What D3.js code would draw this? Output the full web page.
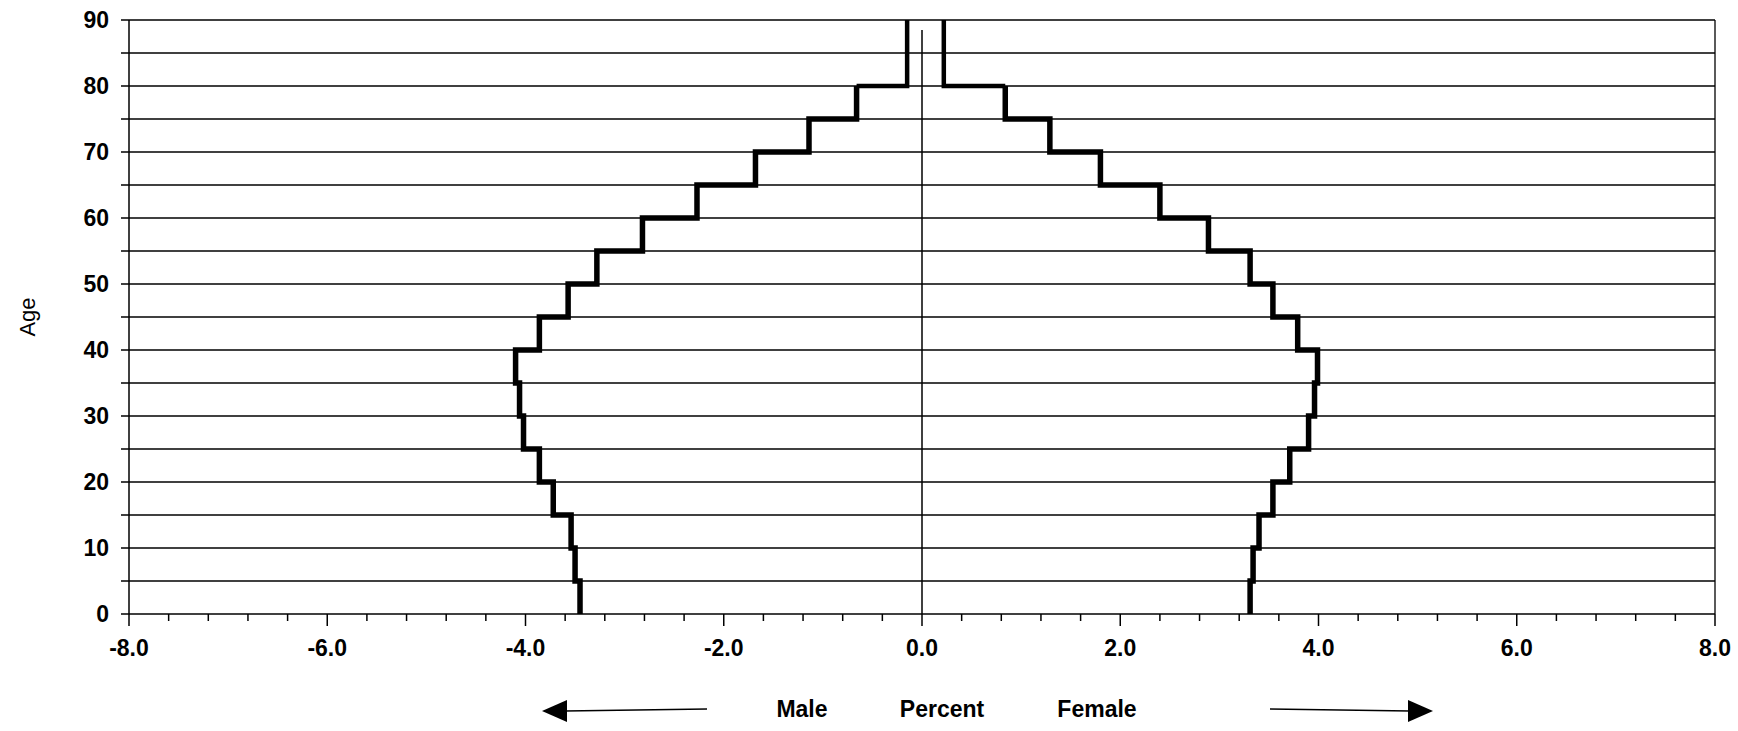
<!DOCTYPE html>
<html><head><meta charset="utf-8">
<script src="https://cdn.jsdelivr.net/npm/d3@7"></script>
<style>body{margin:0;background:#fff}text{font-family:Arial,"Liberation Sans",sans-serif;font-weight:bold}</style>
</head><body><svg id="c" width="1738" height="731"></svg>
<script>
// age band starts (5-year bands, last band 80-90)
var bandStart = [0,5,10,15,20,25,30,35,40,45,50,55,60,65,70,75,80];
var bandEnd   = [5,10,15,20,25,30,35,40,45,50,55,60,65,70,75,80,90];
var male   = [-3.45,-3.5,-3.54,-3.72,-3.86,-4.02,-4.06,-4.1,-3.86,-3.57,-3.28,-2.82,-2.27,-1.68,-1.14,-0.66,-0.15];
var female = [3.31,3.34,3.4,3.54,3.71,3.9,3.96,3.99,3.79,3.54,3.31,2.89,2.4,1.8,1.29,0.84,0.22];
var xTicks = [-8,-6,-4,-2,0,2,4,6,8];
var yTicks = [0,10,20,30,40,50,60,70,80,90];

var svg = d3.select("#c");
var x = d3.scaleLinear().domain([-8,8]).range([129,1715]);
var y = d3.scaleLinear().domain([0,90]).range([614,20]);

// grid lines every 5 years
d3.range(0,91,5).forEach(function(a){
  svg.append("line").attr("x1",x(-8)-8).attr("x2",x(8)).attr("y1",y(a)).attr("y2",y(a))
    .attr("stroke","#000").attr("stroke-width",1.3);
});
svg.append("line").attr("x1",x(8)).attr("x2",x(8)).attr("y1",y(0)).attr("y2",y(90)).attr("stroke","#000").attr("stroke-width",1.3);
svg.append("line").attr("x1",x(-8)).attr("x2",x(-8)).attr("y1",y(0)).attr("y2",y(90)).attr("stroke","#000").attr("stroke-width",1.5);

// x ticks
d3.range(-8,8.01,0.4).forEach(function(v){
  var major = Math.abs(v/2 - Math.round(v/2)) < 1e-6;
  svg.append("line").attr("x1",x(v)).attr("x2",x(v)).attr("y1",y(0)).attr("y2",y(0)+(major?12:7))
    .attr("stroke","#000").attr("stroke-width",1.5);
});
svg.selectAll(".xl").data(xTicks).enter().append("text")
  .attr("x",function(d){return x(d);}).attr("y",y(0)+42).attr("text-anchor","middle")
  .attr("font-size",23).text(function(d){return d.toFixed(1);});
svg.selectAll(".yl").data(yTicks).enter().append("text")
  .attr("x",x(-8)-20).attr("y",function(d){return y(d)+8;}).attr("text-anchor","end")
  .attr("font-size",23).text(function(d){return d;});
svg.append("text").attr("transform","translate(35,"+y(45)+") rotate(-90)").attr("text-anchor","middle")
  .attr("font-size",22).style("font-weight","normal").text("Age");

// center line
svg.append("line").attr("x1",x(0)).attr("x2",x(0)).attr("y1",y(0)).attr("y2",y(88.5)).attr("stroke","#000").attr("stroke-width",1.5);

function stepPath(vals){
  var pts = [];
  vals.forEach(function(v,i){ pts.push([x(v),y(bandStart[i])]); pts.push([x(v),y(bandEnd[i])]); });
  return d3.line()(pts);
}
[male,female].forEach(function(s){
  svg.append("path").attr("d",stepPath(s.slice(0,16)))
    .attr("fill","none").attr("stroke","#000").attr("stroke-width",5.5);
  // top band drawn thinner
  svg.append("path").attr("d",d3.line()([[x(s[15]),y(80)],[x(s[16]),y(80)],[x(s[16]),y(90)]]))
    .attr("fill","none").attr("stroke","#000").attr("stroke-width",4.5);
});

// bottom labels and arrows
var ly = 717;
svg.append("text").attr("x",802).attr("y",ly).attr("text-anchor","middle").attr("font-size",23).text("Male");
svg.append("text").attr("x",942).attr("y",ly).attr("text-anchor","middle").attr("font-size",23).text("Percent");
svg.append("text").attr("x",1097).attr("y",ly).attr("text-anchor","middle").attr("font-size",23).text("Female");
svg.append("line").attr("x1",707).attr("x2",565).attr("y1",ly-8).attr("y2",ly-6).attr("stroke","#000").attr("stroke-width",1.5);
svg.append("path").attr("d","M542,"+(ly-6)+"L567,"+(ly-17)+"L567,"+(ly+5)+"Z");
svg.append("line").attr("x1",1270).attr("x2",1410).attr("y1",ly-8).attr("y2",ly-6).attr("stroke","#000").attr("stroke-width",1.5);
svg.append("path").attr("d","M1433,"+(ly-6)+"L1408,"+(ly-17)+"L1408,"+(ly+5)+"Z");
</script></body></html>
